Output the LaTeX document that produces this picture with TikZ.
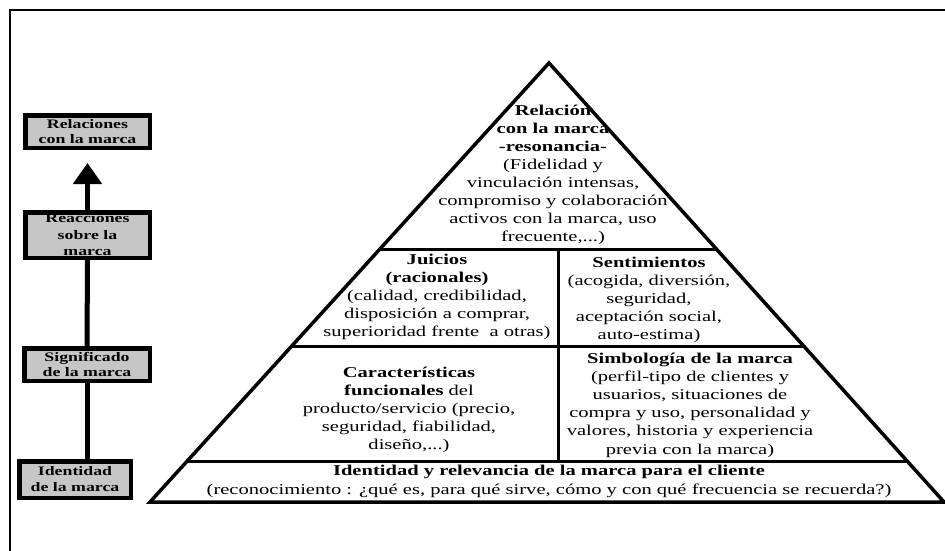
\documentclass[tikz,border=0pt]{standalone}
\usepackage{fontspec}
\setmainfont[FakeStretch=1.37]{Liberation Serif}
\usetikzlibrary{arrows.meta,calc}
\definecolor{boxgray}{RGB}{198,198,198}
\begin{document}
\begin{tikzpicture}[x=1pt,y=-1pt,
  lbox/.style={draw=black, fill=boxgray, line width=4.5pt, inner sep=0pt, align=center,
    font=\fontsize{13}{15.5}\selectfont\bfseries},
  shaft/.style={line width=5pt},
  ptext/.style={inner sep=0pt, align=center, font=\fontsize{15}{18}\selectfont},
  pline/.style={line width=3.5pt, line join=miter},
  iline/.style={line width=3pt}]
\useasboundingbox (0,0) rectangle (945,551);
\fill[white] (0,0) rectangle (945,551);
% frame
\draw[line width=1.5pt] (10,551) -- (10,10) -- (945,10);

% left column
\node[lbox, minimum width=124.5pt, minimum height=32.5pt] (rel) at (87.5,131.5) {Relaciones\\con la marca};
\node[lbox, minimum width=124.5pt, minimum height=45.5pt, font=\fontsize{13}{16.5}\selectfont\bfseries] (rea) at (87.5,235) {Reacciones\\sobre la\\marca};
\node[lbox, minimum width=125.5pt, minimum height=32.5pt] (sig) at (87,364.5) {Significado\\de la marca};
\node[lbox, minimum width=111.5pt, minimum height=36.5pt, font=\fontsize{13}{16}\selectfont\bfseries] (ide) at (75,479.5) {Identidad\\de la marca};
\draw[shaft, -{Triangle[width=28pt,length=21pt]}, shorten >=13pt] (rea.north) -- (rel.south);
\draw[shaft] (rea.south) -- (sig.north);
\draw[shaft] (sig.south) -- (sig.south |- ide.north);

% pyramid
\coordinate (apex) at (549,63);
\coordinate (bl) at (150,502);
\coordinate (br) at (944,502);
\coordinate (l1) at ($(apex)!0.4237!(bl)$);
\coordinate (r1) at ($(apex)!0.4237!(br)$);
\coordinate (l2) at ($(apex)!0.6469!(bl)$);
\coordinate (r2) at ($(apex)!0.6469!(br)$);
\coordinate (l3) at ($(apex)!0.9066!(bl)$);
\coordinate (r3) at ($(apex)!0.9066!(br)$);
\coordinate (v1) at (558,249);
\coordinate (v2) at (558,347);
\coordinate (v3) at (558,461);
\draw[pline] (apex) -- (bl) -- (br) -- cycle;
\draw[iline] (l1) -- (r1);
\draw[iline] (l2) -- (r2);
\draw[iline] (l3) -- (r3);
\draw[iline] (v1) -- (v2) -- (v3);

% pyramid texts
\node[ptext, font=\fontsize{15}{18}\selectfont] (top) at (553,175)
  {\textbf{Relación}\\\textbf{con la marca}\\\textbf{-resonancia-}\\(Fidelidad y\\vinculación intensas,\\compromiso y colaboración\\activos con la marca, uso\\frecuente,...)};
\node[ptext] (jui) at (437,297)
  {\textbf{Juicios}\\\textbf{(racionales)}\\(calidad, credibilidad,\\disposición a comprar,\\superioridad frente~ a otras)};
\node[ptext] (sen) at (649,300)
  {\textbf{Sentimientos}\\(acogida, diversión,\\seguridad,\\aceptación social,\\auto-estima)};
\node[ptext] (car) at (409,410)
  {\textbf{Características}\\\textbf{funcionales} del\\producto/servicio (precio,\\seguridad, fiabilidad,\\diseño,...)};
\node[ptext, font=\fontsize{15}{18.2}\selectfont] (sim) at (690,405)
  {\textbf{Simbología de la marca}\\(perfil-tipo de clientes y\\usuarios, situaciones de\\compra y uso, personalidad y\\valores, historia y experiencia\\previa con la marca)};
\node[ptext, font=\fontsize{15}{19}\selectfont] (ide2) at (549,481)
  {\textbf{Identidad y relevancia de la marca para el cliente}\\(reconocimiento : ¿qué es, para qué sirve, cómo y con qué frecuencia se recuerda?)};
\end{tikzpicture}
\end{document}
